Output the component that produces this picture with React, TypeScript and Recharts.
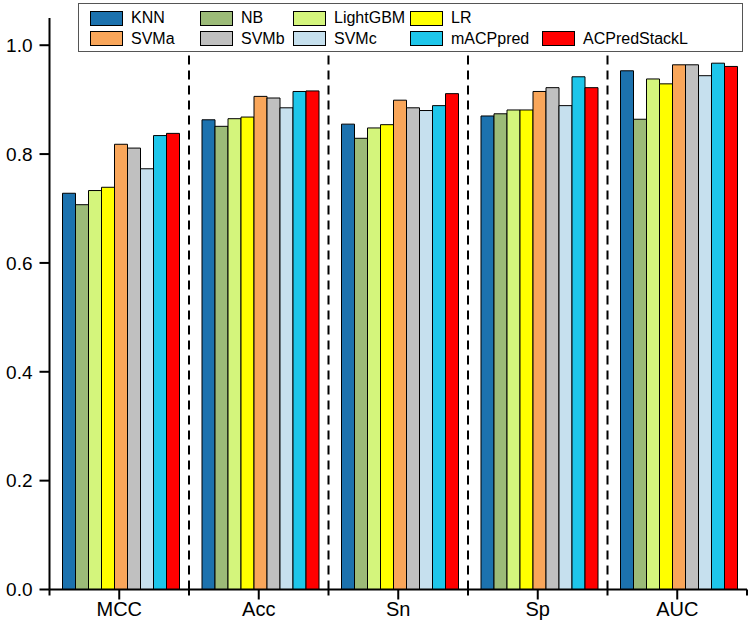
import React from 'react';
import { BarChart, Bar, XAxis, YAxis, ReferenceLine } from 'recharts';

const categories = ['MCC', 'Acc', 'Sn', 'Sp', 'AUC'];
const knn = [0.728, 0.863, 0.855, 0.870, 0.953];
const nb = [0.707, 0.851, 0.829, 0.874, 0.864];
const lightgbm = [0.733, 0.865, 0.848, 0.881, 0.938];
const lr = [0.739, 0.868, 0.854, 0.881, 0.929];
const svma = [0.818, 0.906, 0.899, 0.915, 0.964];
const svmb = [0.811, 0.903, 0.885, 0.922, 0.964];
const svmc = [0.773, 0.885, 0.880, 0.889, 0.944];
const macppred = [0.834, 0.915, 0.889, 0.942, 0.967];
const acpredstackl = [0.838, 0.916, 0.911, 0.922, 0.961];

const seriesNames = ['KNN', 'NB', 'LightGBM', 'LR', 'SVMa', 'SVMb', 'SVMc', 'mACPpred', 'ACPredStackL'];
const seriesValues = [knn, nb, lightgbm, lr, svma, svmb, svmc, macppred, acpredstackl];
const seriesColors = ['#1C72AE', '#9CBB78', '#D4F57C', '#FFFF00', '#F9A65A', '#C0C0C0', '#C6E0EE', '#1EC6EA', '#FF0000'];

const yTicks = [0, 0.2, 0.4, 0.6, 0.8, 1.0];
const yMinorTicks = [0.1, 0.3, 0.5, 0.7, 0.9];
// dashed dividers sit at the start of these categories
const dividerCategories = ['Acc', 'Sn', 'Sp', 'AUC'];
// small boundary ticks below the x axis
const boundaryTicks: { cat: string; pos: 'start' | 'end' }[] = [
  { cat: 'MCC', pos: 'start' },
  { cat: 'Acc', pos: 'start' },
  { cat: 'Sn', pos: 'start' },
  { cat: 'Sp', pos: 'start' },
  { cat: 'AUC', pos: 'start' },
  { cat: 'AUC', pos: 'end' },
];
const boundaryTickDepth = -0.011;

// legend layout: rows of series indices
const legendRows = [[0, 1, 2, 3], [4, 5, 6, 7, 8]];
const legendColLefts = [90, 200, 293, 410, 542];
const legendRowTops = [10, 30.5];

const data = categories.map((c, i) => {
  const row: Record<string, string | number> = { category: c };
  seriesNames.forEach((n, k) => {
    row[n] = seriesValues[k][i];
  });
  return row;
});

const FONT = 'Arial, "Liberation Sans", sans-serif';

export default function App() {
  return (
    <div style={{ position: 'absolute', left: 0, top: 0, width: 750, height: 631, background: '#fff', fontFamily: FONT }}>
      <BarChart
        width={750}
        height={631}
        data={data}
        margin={{ top: 18, right: 3, bottom: 0, left: 0 }}
        barCategoryGap={13}
        barGap={0}
      >
        <XAxis
          xAxisId="cat"
          dataKey="category"
          height={41.5}
          tickSize={10}
          tickMargin={2}
          tickLine={{ stroke: '#000', strokeWidth: 2 }}
          axisLine={{ stroke: '#000', strokeWidth: 2 }}
          tick={{ fill: '#000', fontSize: 20, fontFamily: FONT }}
        />
        <YAxis
          yAxisId="minor"
          type="number"
          domain={[0, 1.05]}
          allowDataOverflow={true}
          ticks={yMinorTicks}
          tick={false}
          tickSize={6}
          tickLine={{ stroke: '#000', strokeWidth: 2 }}
          axisLine={false}
          width={0}
        />
        <YAxis
          yAxisId="major"
          type="number"
          domain={[0, 1.05]}
          allowDataOverflow={true}
          ticks={yTicks}
          width={49.5}
          tickSize={10}
          tickMargin={7}
          tickFormatter={(v: number) => v.toFixed(1)}
          tickLine={{ stroke: '#000', strokeWidth: 2 }}
          axisLine={{ stroke: '#000', strokeWidth: 2 }}
          tick={{ fill: '#000', fontSize: 19, fontFamily: FONT }}
        />
        {dividerCategories.map((c) => (
          <ReferenceLine
            key={'div-' + c}
            x={c}
            position="start"
            xAxisId="cat"
            yAxisId="major"
            stroke="#000"
            strokeWidth={2}
            strokeDasharray="9 6"
          />
        ))}
        {boundaryTicks.map((b) => (
          <ReferenceLine
            key={'bt-' + b.cat + b.pos}
            segment={[
              { x: b.cat, y: 0 },
              { x: b.cat, y: boundaryTickDepth },
            ]}
            position={b.pos}
            ifOverflow="visible"
            xAxisId="cat"
            yAxisId="major"
            stroke="#000"
            strokeWidth={2}
          />
        ))}
        {seriesNames.map((n, k) => (
          <Bar
            key={n}
            dataKey={n}
            xAxisId="cat"
            yAxisId="major"
            fill={seriesColors[k]}
            stroke="#000"
            strokeWidth={1}
            isAnimationActive={false}
          />
        ))}
      </BarChart>
      <div
        style={{
          position: 'absolute',
          left: 78,
          top: 3,
          width: 665,
          height: 49,
          border: '1.5px solid #555',
          background: '#fff',
          boxSizing: 'border-box',
        }}
      />
      {legendRows.map((row, r) =>
        row.map((k, c) => (
          <div
            key={seriesNames[k]}
            style={{
              position: 'absolute',
              left: legendColLefts[c],
              top: legendRowTops[r],
              height: 16,
              display: 'flex',
              alignItems: 'center',
              whiteSpace: 'nowrap',
            }}
          >
            <div
              style={{
                width: 33,
                height: 15,
                background: seriesColors[k],
                border: '1px solid #000',
                boxSizing: 'border-box',
              }}
            />
            <span style={{ marginLeft: 8, fontSize: 16, color: '#000', fontFamily: FONT }}>{seriesNames[k]}</span>
          </div>
        ))
      )}
    </div>
  );
}
